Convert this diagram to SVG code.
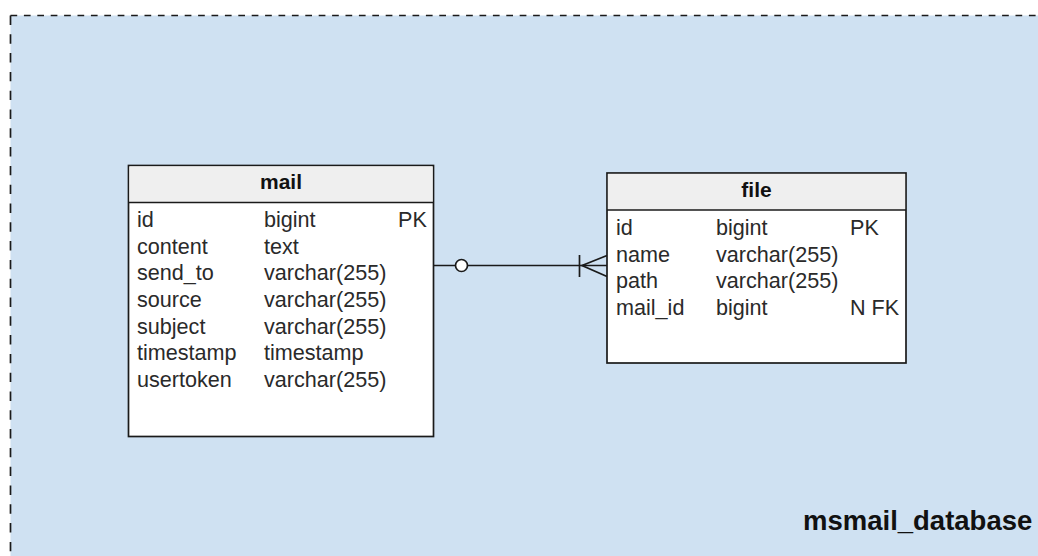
<svg xmlns="http://www.w3.org/2000/svg" width="1038" height="556" viewBox="0 0 1038 556">
  <style>
    .cell { font-family: "Liberation Sans", Arial, sans-serif; font-size: 21.6px; fill: #2a2a2a; }
    .title { font-family: "Liberation Sans", Arial, sans-serif; font-size: 21px; font-weight: bold; fill: #111; text-anchor: middle; }
    .box { fill: #ffffff; stroke: #1a1a1a; stroke-width: 1.7; }
    .head { fill: #efefef; stroke: none; }
    .edge { stroke: #1a1a1a; stroke-width: 1.7; fill: none; }
  </style>
  <rect x="0" y="0" width="1038" height="556" fill="#ffffff"/>
  <g id="msmail_database">
    <rect x="10.5" y="15.5" width="1040" height="560" fill="#cfe1f2"/>
    <line x1="10.5" y1="15.5" x2="1038" y2="15.5" stroke="#1a1a1a" stroke-width="1.7" stroke-dasharray="6.7 6.7"/>
    <line x1="10.5" y1="15.5" x2="10.5" y2="556" stroke="#1a1a1a" stroke-width="1.7" stroke-dasharray="9.4 9.4"/>
    <text x="803" y="530" font-family="Liberation Sans, Arial, sans-serif" font-size="27.5" font-weight="bold" fill="#111">msmail_database</text>
  </g>
  <g id="connectors">
    <line class="edge" x1="433.5" y1="265.5" x2="607" y2="265.5"/>
    <circle cx="461.5" cy="265.5" r="6" fill="#ffffff" stroke="#1a1a1a" stroke-width="1.7"/>
    <line class="edge" x1="579.5" y1="255" x2="579.5" y2="277"/>
    <polyline class="edge" points="607,255.5 582,265.5 607,276.5"/>
  </g>
  <g id="mail">
    <rect class="box" x="128.5" y="165.5" width="305" height="271"/>
    <rect class="head" x="129.4" y="166.4" width="303.2" height="36.1"/>
    <line class="edge" x1="128.5" y1="202.5" x2="433.5" y2="202.5"/>
    <text class="title" x="281" y="189">mail</text>
    <g class="cell">
      <text x="137" y="227">id</text><text x="264" y="227">bigint</text><text x="398" y="227">PK</text>
      <text x="137" y="254">content</text><text x="264" y="254">text</text>
      <text x="137" y="280">send_to</text><text x="264" y="280">varchar(255)</text>
      <text x="137" y="307">source</text><text x="264" y="307">varchar(255)</text>
      <text x="137" y="334">subject</text><text x="264" y="334">varchar(255)</text>
      <text x="137" y="360">timestamp</text><text x="264" y="360">timestamp</text>
      <text x="137" y="387">usertoken</text><text x="264" y="387">varchar(255)</text>
    </g>
  </g>
  <g id="file">
    <rect class="box" x="607" y="173" width="299" height="190"/>
    <rect class="head" x="607.9" y="173.9" width="297.2" height="36.1"/>
    <line class="edge" x1="607" y1="210" x2="906" y2="210"/>
    <text class="title" x="756.5" y="197">file</text>
    <g class="cell">
      <text x="616" y="235">id</text><text x="716" y="235">bigint</text><text x="850" y="235">PK</text>
      <text x="616" y="262">name</text><text x="716" y="262">varchar(255)</text>
      <text x="616" y="288">path</text><text x="716" y="288">varchar(255)</text>
      <text x="616" y="315">mail_id</text><text x="716" y="315">bigint</text><text x="850" y="315">N FK</text>
    </g>
  </g>
</svg>
